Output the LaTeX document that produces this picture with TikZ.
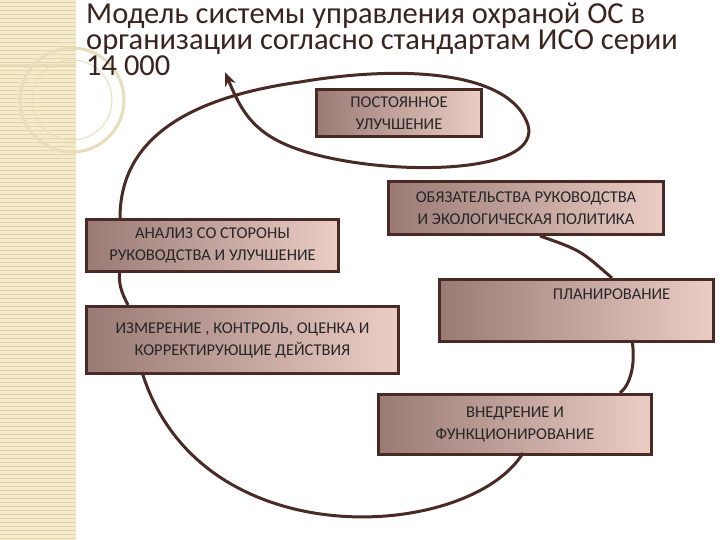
\documentclass[tikz,border=0pt]{standalone}
\usepackage{fontspec}
\setmainfont{Carlito}
\usetikzlibrary{arrows.meta}
\definecolor{brd}{HTML}{4A2A24}
\definecolor{dk}{HTML}{9A7A74}
\definecolor{lt}{HTML}{EBCDC6}
\definecolor{beige}{HTML}{F3EBCB}
\definecolor{beigel}{HTML}{E2D4A6}
\definecolor{ttl}{HTML}{3A2420}
\begin{document}
\begin{tikzpicture}[x=1pt,y=-1pt,
  bx/.style={draw=brd,line width=3pt,left color=dk,right color=lt,align=center,
    font=\fontsize{16.5}{22}\selectfont,text=black!85,inner sep=0pt,anchor=north west},
  ln/.style={draw=brd,line width=3pt}]
\useasboundingbox (0,0) rectangle (720,540);
\fill[white] (0,0) rectangle (720,540);
\fill[beige] (0,0) rectangle (76,540);
\foreach \y in {2,6,...,538} \draw[beigel,line width=0.6pt] (0,\y) -- (76,\y);
\draw[beigel!80,line width=3pt] (72,100) circle[radius=52];
\draw[beigel!80,line width=1pt] (72,100) circle[radius=40];
\draw[beigel!80,line width=2pt] (0,65) -- (75,65);
\node[anchor=north west,align=left,text=ttl,inner sep=0pt,font=\fontsize{30.5}{26}\selectfont] (title) at (86,3)
 {Модель системы управления охраной ОС в\\организации согласно стандартам ИСО серии\\14 000};
\node[bx,minimum width=165,minimum height=47] (pu) at (315,88) {ПОСТОЯННОЕ\\УЛУЧШЕНИЕ};
\node[bx,minimum width=275,minimum height=53] (ob) at (387,180) {ОБЯЗАТЕЛЬСТВА РУКОВОДСТВА\\И ЭКОЛОГИЧЕСКАЯ ПОЛИТИКА};
\node[bx,minimum width=252,minimum height=52] (an) at (85,218) {АНАЛИЗ СО СТОРОНЫ\\РУКОВОДСТВА И УЛУЧШЕНИЕ};
\node[bx,minimum width=274,minimum height=62] (pl) at (438,278) {\hspace*{70pt}ПЛАНИРОВАНИЕ\\[10pt]};
\node[bx,minimum width=312,minimum height=67] (iz) at (85,305) {ИЗМЕРЕНИЕ , КОНТРОЛЬ, ОЦЕНКА И\\КОРРЕКТИРУЮЩИЕ ДЕЙСТВИЯ};
\node[bx,minimum width=273,minimum height=60] (vn) at (377,393) {ВНЕДРЕНИЕ И\\ФУНКЦИОНИРОВАНИЕ};
\coordinate (tip) at (225,72);
\draw[ln] (ob.south west)+(153,0) coordinate (o1) (o1) .. controls (580,250) .. (612,278);
\draw[ln] (632,340) .. controls (636,365) and (630,385) .. (620,393);
\draw[ln] (523,453) .. controls (470,540) and (200,560) .. (142,372);
\draw[ln] (128,305) .. controls (121,292) and (118,282) .. (120,270);
\draw[ln,-{Stealth[length=14pt,width=11pt]}] (120,218) .. controls (120,150) and (170,100) .. (300,82)
  .. controls (400,65) and (510,70) .. (528,125)
  .. controls (540,170) and (420,175) .. (340,160)
  .. controls (260,145) and (245,120) .. (tip);
\end{tikzpicture}
\end{document}
